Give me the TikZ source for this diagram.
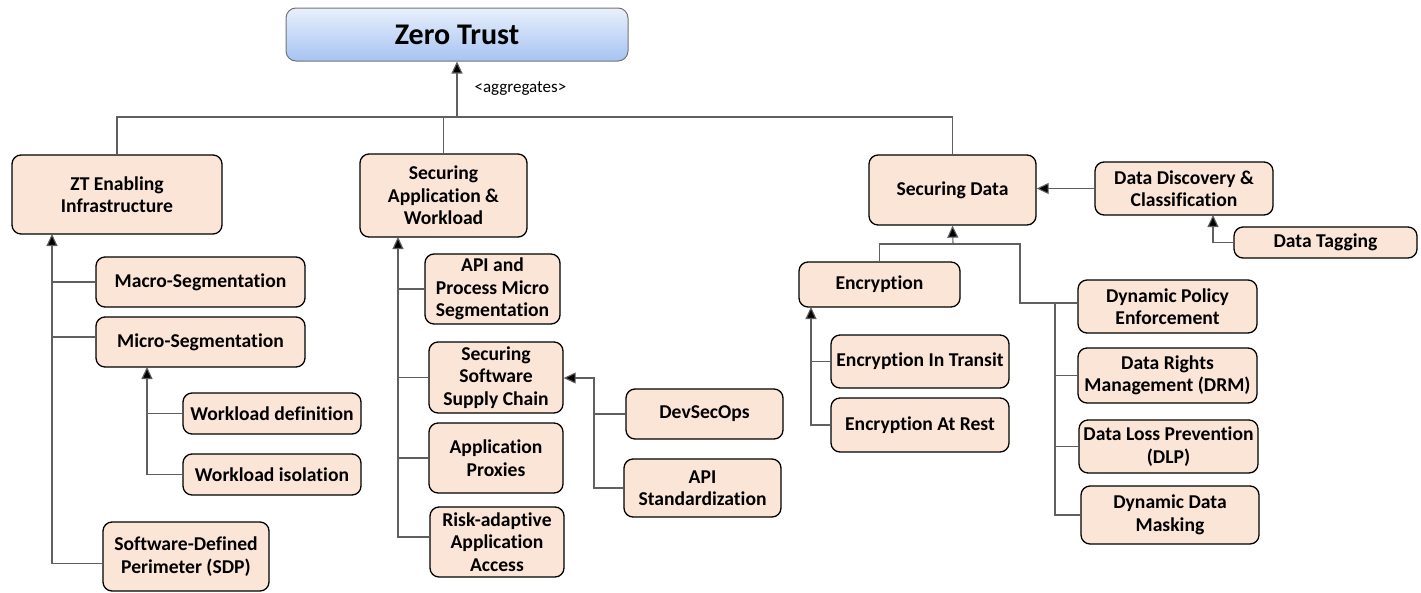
\documentclass[tikz,border=0pt]{standalone}
\usepackage{fontspec}
\setmainfont{Carlito}[Ligatures=NoCommon]
\usetikzlibrary{arrows.meta}
\definecolor{peach}{HTML}{FBE5D6}
\definecolor{ztlight}{HTML}{E8F0FC}
\definecolor{ztdark}{HTML}{A6C3F2}
\definecolor{linegray}{HTML}{606060}
\begin{document}
\begin{tikzpicture}[x=1pt,y=-1pt,
  box/.style={draw=black,line width=1.3pt,fill=peach,rounded corners=9pt,inner sep=0pt,align=center,font=\bfseries\fontsize{19.6}{22.5}\selectfont},
  conn/.style={draw=linegray,line width=1.1pt},
  arr/.style={conn,-{Triangle[length=12pt,width=11pt,fill=black]}}]
\useasboundingbox (0,0) rectangle (1421,592);
\node[draw=black!55,line width=1pt,rounded corners=10pt,top color=ztlight,bottom color=ztdark,minimum width=342pt,minimum height=53pt,inner sep=0pt,font=\bfseries\fontsize{30}{34}\selectfont] (zt) at (457,34.5) {Zero Trust};
\node[anchor=west,font=\fontsize{17}{20}\selectfont] (agg) at (471,89) {<aggregates>};
\node[box,minimum width=210pt,minimum height=79pt] (zti) at (117,194.5) {ZT Enabling\\Infrastructure};
\node[box,minimum width=209pt,minimum height=50pt] (macro) at (200.5,282) {Macro-Segmentation};
\node[box,minimum width=209pt,minimum height=50pt] (micro) at (200.5,342) {Micro-Segmentation};
\node[box,minimum width=178pt,minimum height=41pt] (wdef) at (272,413.5) {Workload definition};
\node[box,minimum width=178pt,minimum height=41pt] (wiso) at (272,474.5) {Workload isolation};
\node[box,minimum width=166pt,minimum height=69pt] (sdp) at (186,556.5) {Software-Defined\\Perimeter (SDP)};
\node[box,minimum width=167pt,minimum height=83pt] (saw) at (443.5,195.5) {Securing\\Application \&\\Workload};
\node[box,minimum width=135pt,minimum height=70pt] (apims) at (492.5,289) {API and\\Process Micro\\Segmentation};
\node[box,minimum width=134pt,minimum height=71pt] (sssc) at (496,377.5) {Securing\\Software\\Supply Chain};
\node[box,minimum width=134pt,minimum height=70pt] (proxy) at (496,458) {Application\\Proxies};
\node[box,minimum width=134pt,minimum height=70pt] (raaa) at (497,542) {Risk-adaptive\\Application\\Access};
\node[box,minimum width=157pt,minimum height=50pt] (devsec) at (704.5,414) {DevSecOps};
\node[box,minimum width=157pt,minimum height=58pt] (apistd) at (702.5,488) {API\\Standardization};
\node[box,minimum width=167pt,minimum height=70pt] (sd) at (952.5,190) {Securing Data};
\node[box,minimum width=178pt,minimum height=53pt] (ddc) at (1184,188.5) {Data Discovery \&\\Classification};
\node[box,minimum width=183pt,minimum height=31pt] (tag) at (1325.5,242.5) {Data Tagging};
\node[box,minimum width=161pt,minimum height=45pt] (enc) at (879.5,284.5) {Encryption};
\node[box,minimum width=178pt,minimum height=53pt] (eit) at (920,361.5) {Encryption In Transit};
\node[box,minimum width=178pt,minimum height=54pt] (ear) at (920,425) {Encryption At Rest};
\node[box,minimum width=179pt,minimum height=53pt] (dpe) at (1167.5,306.5) {Dynamic Policy\\Enforcement};
\node[box,minimum width=179pt,minimum height=55pt] (drm) at (1167.5,375.5) {Data Rights\\Management (DRM)};
\node[box,minimum width=179pt,minimum height=53pt] (dlp) at (1168.5,446.5) {Data Loss Prevention\\(DLP)};
\node[box,minimum width=178pt,minimum height=58pt] (ddm) at (1170,515) {Dynamic Data\\Masking};
\coordinate (bus) at (457,117);
\draw[conn] (zti.north) |- (bus) -| (sd.north);
\draw[conn] (saw.north) -- (saw.north |- bus);
\draw[arr] (bus) -- (zt.south);
\coordinate (ztitrunk) at (52,234);
\draw[arr] ([yshift=-7pt]sdp.west) -| (ztitrunk);
\draw[conn] (macro.west) -- (macro.west -| ztitrunk);
\draw[conn] ([yshift=5pt]micro.west) -- ([yshift=5pt]micro.west -| ztitrunk);
\coordinate (microtrunk) at (147,367);
\draw[arr] (wiso.west) -| (microtrunk);
\draw[conn] (wdef.west) -- (wdef.west -| microtrunk);
\coordinate (sawtrunk) at (398,237);
\draw[arr] ([yshift=5pt]raaa.west) -| (sawtrunk);
\draw[conn] (apims.west) -- (apims.west -| sawtrunk);
\draw[conn] (sssc.west) -- (sssc.west -| sawtrunk);
\draw[conn] (proxy.west) -- (proxy.west -| sawtrunk);
\coordinate (sssctrunk) at (594,378);
\draw[arr] (apistd.west) -| (sssctrunk) -- (sssc.east |- sssctrunk);
\draw[conn] (devsec.west) -- (devsec.west -| sssctrunk);
\draw[arr] (ddc.west) -- (ddc.west -| sd.east);
\coordinate (tagtrunk) at (1213,215);
\draw[arr] (tag.west) -| (tagtrunk);
\coordinate (sdbus) at (953,244);
\coordinate (sdbend) at (1020,244);
\coordinate (dpetrunk) at (1055,303);
\draw[conn] (enc.north) |- (sdbend) |- (dpetrunk) -- (dpetrunk -| dpe.west);
\draw[arr] (sdbus) -- (sd.south);
\draw[conn] (dpetrunk) |- (ddm.west);
\draw[conn] (drm.west) -- (drm.west -| dpetrunk);
\draw[conn] (dlp.west) -- (dlp.west -| dpetrunk);
\coordinate (enctrunk) at (811,307);
\draw[arr] (ear.west) -| (enctrunk);
\draw[conn] (eit.west) -- (eit.west -| enctrunk);
\end{tikzpicture}
\end{document}
